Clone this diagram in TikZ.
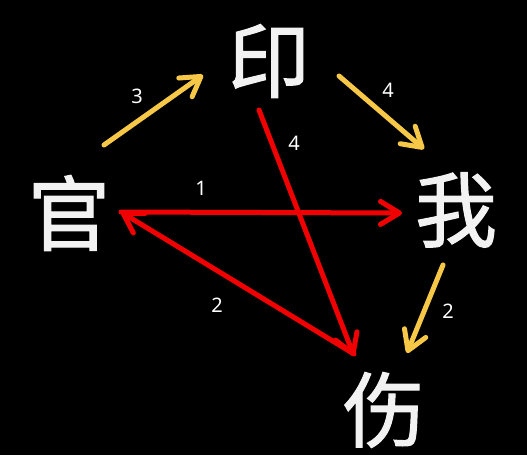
\documentclass[tikz,border=0pt]{standalone}
\usepackage{fontspec}
\setmainfont{Noto Sans}
\newfontfamily\cjk[FakeBold=1.3]{Noto Sans CJK SC}
\usetikzlibrary{arrows.meta}
\definecolor{gold}{RGB}{247,200,72}
\definecolor{redline}{RGB}{240,0,0}
\definecolor{chartext}{RGB}{242,242,242}
\tikzset{
  hanzi/.style={text=chartext, inner sep=0pt, font=\cjk\fontsize{82}{82}\selectfont},
  num/.style={text=white, inner sep=0pt, font=\fontsize{20}{20}\selectfont},
  goldarrow/.style={draw=gold, line width=5pt, line cap=round,
    -{Straight Barb[length=19pt,width=23pt,line cap=round,round]}},
  redarrow/.style={draw=redline, line width=5pt, line cap=round,
    -{Straight Barb[length=19pt,width=23pt,line cap=round,round]}}
}
\begin{document}
\begin{tikzpicture}[x=1pt,y=-1pt]
  \fill[black] (0,0) rectangle (527,455);
  \useasboundingbox (0,0) rectangle (527,455);
  % characters
  \node[hanzi] (yin)  at (269,61)  {印};
  \node[hanzi] (guan) at (69,213)  {官};
  \node[hanzi] (wo)   at (456,210) {我};
  \node[hanzi] (shang) at (384,410) {伤};
  % endpoints
  \coordinate (g3a) at (104,145);
  \coordinate (g3b) at (203,75);
  \coordinate (g4a) at (339,76);
  \coordinate (g4b) at (424,149);
  \coordinate (g2a) at (443,265);
  \coordinate (g2b) at (407,353);
  \coordinate (r1a) at (121,212);
  \coordinate (r1b) at (402,213);
  \coordinate (r2a) at (354,354);
  \coordinate (r2b) at (121,212);
  \coordinate (r4a) at (259,110);
  \coordinate (r4b) at (354,356);
  % connectors
  \draw[goldarrow] (g3a) -- (g3b);
  \draw[goldarrow] (g4a) -- (g4b);
  \draw[goldarrow] (g2a) -- (g2b);
  \draw[redarrow] (r1a) -- (r1b);
  \draw[redarrow] (r2a) -- (r2b);
  \draw[redarrow] (r4a) -- (r4b);
  % labels
  \node[num] (l3)  at (137,96)  {3};
  \node[num] (l4a) at (388,90)  {4};
  \node[num] (l2a) at (448,311) {2};
  \node[num] (l1)  at (201,188) {1};
  \node[num] (l2b) at (217,305) {2};
  \node[num] (l4b) at (294,143) {4};
\end{tikzpicture}
\end{document}
